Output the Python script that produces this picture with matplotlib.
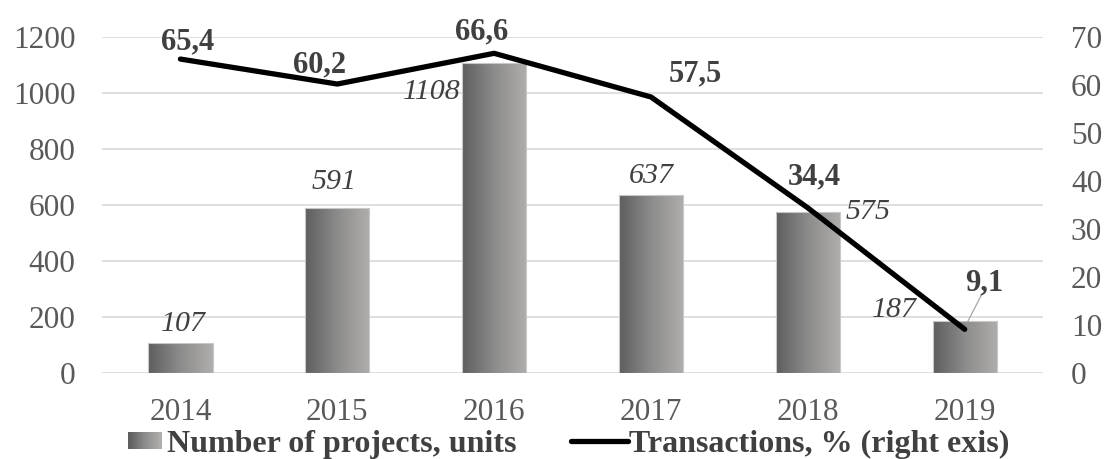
import numpy as np
import matplotlib
matplotlib.use("Agg")
import matplotlib.pyplot as plt
from matplotlib.colors import LinearSegmentedColormap
from matplotlib.legend_handler import HandlerBase
from matplotlib.patches import Rectangle
from matplotlib.lines import Line2D

years = ["2014", "2015", "2016", "2017", "2018", "2019"]
projects = [107, 591, 1108, 637, 575, 187]
transactions = [65.4, 60.2, 66.6, 57.5, 34.4, 9.1]
project_labels = ["107", "591", "1108", "637", "575", "187"]
trans_labels = ["65,4", "60,2", "66,6", "57,5", "34,4", "9,1"]
left_ticks = [0, 200, 400, 600, 800, 1000, 1200]
right_ticks = [0, 10, 20, 30, 40, 50, 60, 70]

plt.rcParams['font.family'] = ['Liberation Serif', 'DejaVu Serif']

grad_cmap = LinearSegmentedColormap.from_list("g", ["#5e5e5e", "#8c8c8c", "#b0aeac"])
TICK_C = "#595959"
LAB_C = "#404040"

fig = plt.figure(figsize=(11.05, 4.59), dpi=100)
ax = fig.add_axes([0.0923, 0.1874, 0.8517, 0.7320])
ax2 = ax.twinx()

x = np.arange(len(years))
bw = 0.41
bars = ax.bar(x, projects, width=bw, facecolor="none", edgecolor="#c8c8c8", linewidth=0.8, zorder=3)
grad = np.linspace(0, 1, 256).reshape(1, -1)
for b in bars:
    x0, y0 = b.get_x(), b.get_y()
    w, h = b.get_width(), b.get_height()
    im = ax.imshow(grad, cmap=grad_cmap, extent=[x0, x0 + w, y0, y0 + h],
                   aspect="auto", zorder=2, interpolation="bicubic")
    im.set_clip_path(b)

ax.set_xlim(-0.5, len(years) - 0.5)
ax.set_ylim(0, 1200)
ax2.set_ylim(0, 70)
ax.set_yticks(left_ticks)
ax2.set_yticks(right_ticks)
ax.set_xticks(x)
ax.set_xticklabels(years)
ax.grid(axis="y", color="#d9d9d9", linewidth=1.2, zorder=0)
ax.set_axisbelow(True)
for a in (ax, ax2):
    for s in a.spines.values():
        s.set_visible(False)
    a.tick_params(length=0, labelsize=22.5, colors=TICK_C)
ax.tick_params(axis="y", pad=19)
ax2.tick_params(axis="y", pad=20)
ax.tick_params(axis="x", pad=18)

ax2.plot(x, transactions, color="black", linewidth=3.8, solid_joinstyle="round",
         solid_capstyle="round", zorder=4)

# bar labels: (x anchor side, dx pts, dy pts, ha, va)
bar_off = [
    (0, 2, 4, "center", "bottom"),
    (0, -2, 9, "center", "bottom"),
    (-1, -1, -21, "right", "center"),
    (0, 0, 4, "center", "bottom"),
    (1, 4, 0, "left", "center"),
    (-1, -11, 8, "right", "center"),
]
for i, v in enumerate(projects):
    side, dx, dy, ha, va = bar_off[i]
    ax.annotate(project_labels[i], (x[i] + side * bw / 2, v), xytext=(dx, dy),
                textcoords="offset points", ha=ha, va=va, fontsize=21.5,
                style="italic", color=LAB_C, zorder=6)

# line labels
line_off = [(5, 2), (-13, 3), (-9, 5), (32, 6), (5, 12), (14, 23)]
for i, v in enumerate(transactions):
    dx, dy = line_off[i]
    ax2.annotate(trans_labels[i], (x[i], v), xytext=(dx, dy), textcoords="offset points",
                 ha="center", va="bottom", fontsize=22, fontweight="bold", color=LAB_C, zorder=6)
# leader line for 9,1
ax2.annotate("", (x[5] + 0.01, transactions[5] + 1.0), xytext=(x[5] + 0.12, transactions[5] + 8.0),
             arrowprops=dict(arrowstyle="-", color="#a6a6a6", lw=0.9), zorder=5)


class GradHandler(HandlerBase):
    def create_artists(self, legend, orig_handle, xdescent, ydescent, width, height, fontsize, trans):
        arts = []
        n = 20
        pw = 24.0   # patch width in points
        ph = 12.5   # patch height in points
        x_end = -xdescent + width - 3.0
        x_start = x_end - pw
        y0 = -ydescent + (height - ph) / 2.0
        for k in range(n):
            r = Rectangle((x_start + pw * k / n, y0), pw / n + 0.3, ph,
                          facecolor=grad_cmap(k / (n - 1)), edgecolor="none", transform=trans)
            arts.append(r)
        return arts


gh = Rectangle((0, 0), 1, 1)
lh = Line2D([0], [0], color="black", linewidth=3.8, solid_capstyle="round")
leg = fig.legend([gh, lh], ["Number of projects, units", "Transactions, % (right exis)"],
                 handler_map={Rectangle: GradHandler()}, loc="center left",
                 bbox_to_anchor=(109 / 1105, 0.032), ncol=2, frameon=False,
                 borderpad=0, borderaxespad=0,
                 prop=dict(size=23, weight="bold"), handlelength=1.78, handleheight=0.7,
                 handletextpad=0.03, columnspacing=1.72, labelcolor=LAB_C)

fig.savefig("out.png", dpi=100)
